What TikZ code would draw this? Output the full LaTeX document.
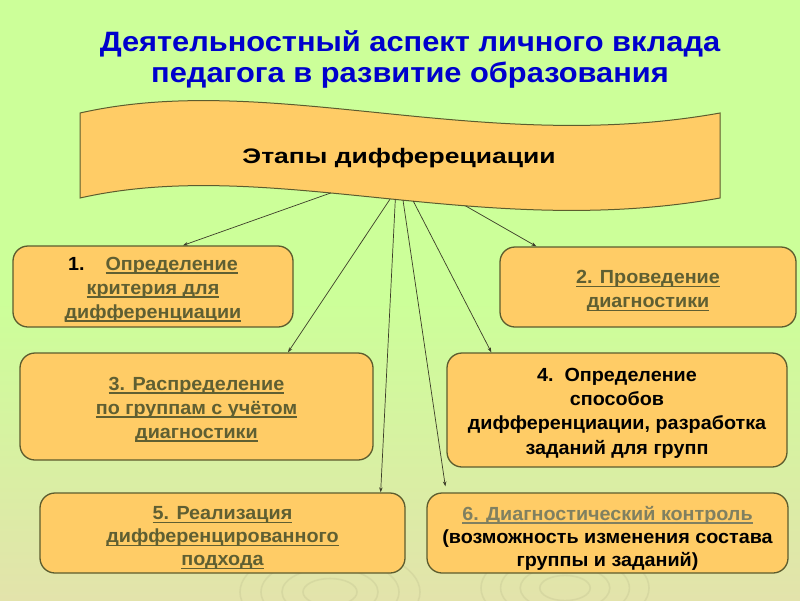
\documentclass[tikz,border=0pt]{standalone}
\usepackage{fontspec}
\setmainfont{Liberation Sans}
\newfontfamily\titlefont[FakeStretch=1.1]{Liberation Sans}
\newfontfamily\bannerfont[FakeStretch=1.26]{Liberation Sans}
\newfontfamily\boxfont[FakeStretch=1.04]{Liberation Sans}
\usetikzlibrary{arrows.meta}
\definecolor{bgtop}{RGB}{204,255,153}
\definecolor{bgbot}{RGB}{227,227,171}
\definecolor{boxfill}{RGB}{255,204,102}
\definecolor{boxline}{RGB}{92,92,46}
\definecolor{olivetext}{RGB}{95,95,50}
\definecolor{greytext}{RGB}{128,128,96}
\definecolor{titleblue}{RGB}{0,0,204}
\definecolor{linkcol}{RGB}{60,60,40}
\definecolor{ringcol}{RGB}{175,175,130}
\pgfdeclareverticalshading{bgsh}{100bp}{color(0bp)=(bgbot); color(25bp)=(bgbot); color(50bp)=(bgtop); color(100bp)=(bgtop)}
\newcommand\ulx[1]{\setbox0\hbox{#1}\rlap{\rule[-3.4pt]{\wd0}{1.4pt}}\box0}
\tikzset{
  stagebox/.style={draw=boxline, line width=1.3pt, fill=boxfill, rounded corners=15pt, inner sep=0pt},
  stagetext/.style={align=center, inner sep=0pt, font=\boxfont\bfseries\fontsize{19}{24}\selectfont},
  banner/.style={draw=boxline, line width=1pt, fill=boxfill},
  link/.style={draw=linkcol, line width=0.7pt, -{Stealth[length=5pt,width=3.5pt]}},
  ring/.style={draw=ringcol, line width=1.6pt, opacity=0.22}
}
\begin{document}
\begin{tikzpicture}[x=1pt,y=-1pt]
\useasboundingbox (0,0) rectangle (800,600);
\shade[shading=bgsh] (0,0) rectangle (800,600);
% faint rings
\begin{scope}
\clip (0,0) rectangle (800,600);
\foreach \r in {18,32,46,60}{
  \draw[ring] (330,592) ellipse [x radius=\r*1.5, y radius=\r*0.75];
  \draw[ring] (565,588) ellipse [x radius=\r*1.4, y radius=\r*0.7];
}
\end{scope}
% title
\node[align=center, text=titleblue, font=\titlefont\bfseries\fontsize{28}{31}\selectfont] (title) at (410,59)
  {Деятельностный аспект личного вклада\\педагога в развитие образования};
% banner
\draw[banner] (80,113) .. controls (270,70) and (480,156) .. (720,113) -- (720,198)
  .. controls (480,241) and (270,155) .. (80,198)
  coordinate[pos=0.58] (s1) coordinate[pos=0.486] (s3) coordinate[pos=0.478] (s5)
  coordinate[pos=0.466] (s6) coordinate[pos=0.45] (s4) coordinate[pos=0.37] (s2)
  -- cycle;
\node[font=\bannerfont\bfseries\fontsize{21}{24}\selectfont] (head) at (399,158) {Этапы дифферециации};
% boxes
\node[stagebox, minimum width=280pt, minimum height=81pt] (b1) at (153,286.5) {};
\node[stagebox, minimum width=296pt, minimum height=80pt] (b2) at (648,287) {};
\node[stagebox, minimum width=353pt, minimum height=107pt] (b3) at (196.5,406.5) {};
\node[stagebox, minimum width=340pt, minimum height=114pt] (b4) at (617,410) {};
\node[stagebox, minimum width=365pt, minimum height=80pt] (b5) at (222.5,533) {};
\node[stagebox, minimum width=361pt, minimum height=80pt] (b6) at (607.5,533) {};
% box texts
\node[stagetext, text=olivetext] (t1) at ([yshift=-3pt]b1.center)
  {\textcolor{black}{1.}\hspace{1.1em}\ulx{Определение}\\\ulx{критерия для}\\\ulx{дифференциации}};
\node[stagetext, text=olivetext] (t2) at ([yshift=-4pt]b2.center)
  {\ulx{2. Проведение}\\\ulx{диагностики}};
\node[stagetext, text=olivetext] (t3) at ([yshift=-3pt]b3.center)
  {\ulx{3. Распределение}\\\ulx{по группам с учётом}\\\ulx{диагностики}};
\node[stagetext, font=\boxfont\bfseries\fontsize{19}{24.3}\selectfont] (t4) at ([yshift=-3pt]b4.center)
  {4.\ \ Определение\\способов\\дифференциации, разработка\\заданий для групп};
\node[stagetext, text=olivetext, font=\boxfont\bfseries\fontsize{19}{23}\selectfont] (t5) at ([yshift=-5pt]b5.center)
  {\ulx{5. Реализация}\\\ulx{дифференцированного}\\\ulx{подхода}};
\node[stagetext, font=\boxfont\bfseries\fontsize{19}{23}\selectfont] (t6) at ([yshift=-5pt]b6.center)
  {\textcolor{greytext}{\ulx{6. Диагностический контроль}}\\(возможность изменения состава\\группы и заданий)};
% connectors
\draw[link] (s1) -- ([xshift=30pt]b1.north);
\draw[link] (s2) -- ([xshift=37pt]b2.north west);
\draw[link] (s3) -- ([xshift=91.5pt]b3.north);
\draw[link] (s4) -- ([xshift=45pt]b4.north west);
\draw[link] (s5) -- ([xshift=-25pt]b5.north east);
\draw[link] (s6) -- ([xshift=19pt,yshift=6pt]b6.north west);
\end{tikzpicture}
\end{document}
